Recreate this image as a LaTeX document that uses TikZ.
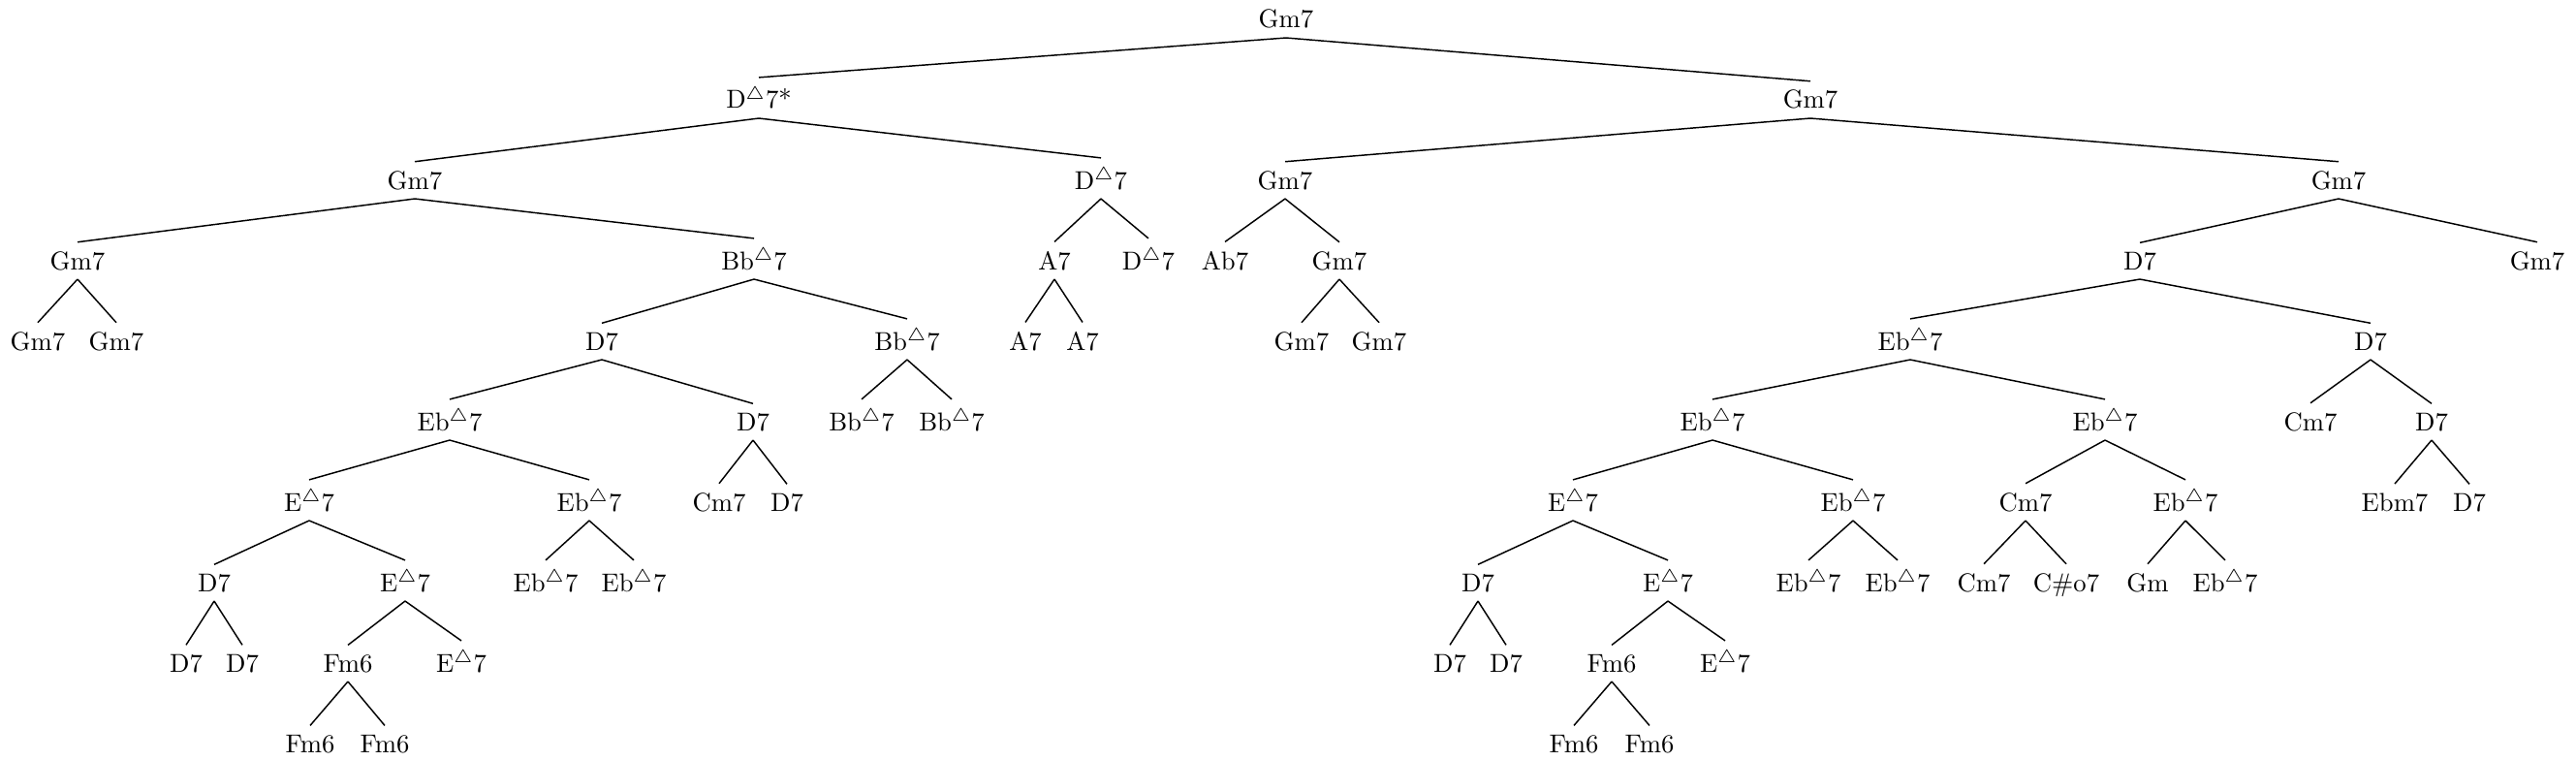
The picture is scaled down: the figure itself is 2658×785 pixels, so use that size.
\documentclass[tikz,border=0pt]{standalone}
\usepackage{amssymb}
\newcommand{\maj}{$^{\triangle}$}
\begin{document}
\begin{tikzpicture}[x=0.3745pt,y=-0.3745pt,
  ch/.style={anchor=base,inner sep=0.3333em},
  edge/.style={line width=0.55pt}]
\useasboundingbox (0,0) rectangle (2658,785);
% level 0
\node[ch] (r) at (1327,29) {Gm7};
% level 1
\node[ch] (a) at (783,112) {D\maj7*};
\node[ch] (b) at (1868,112) {Gm7};
% level 2
\node[ch] (aa) at (428,195) {Gm7};
\node[ch] (ab) at (1136,195) {D\maj7};
\node[ch] (ba) at (1326,195) {Gm7};
\node[ch] (bb) at (2413,195) {Gm7};
% level 3
\node[ch] (aaa) at (80,278) {Gm7};
\node[ch] (aab) at (778,278) {Bb\maj7};
\node[ch] (aba) at (1088,278) {A7};
\node[ch] (abb) at (1185,278) {D\maj7};
\node[ch] (baa) at (1264,278) {Ab7};
\node[ch] (bab) at (1382,278) {Gm7};
\node[ch] (bba) at (2208,278) {D7};
\node[ch] (bbb) at (2618,278) {Gm7};
% level 4
\node[ch] (aaaa) at (39,361) {Gm7};
\node[ch] (aaab) at (120,361) {Gm7};
\node[ch] (aaba) at (621,361) {D7};
\node[ch] (aabb) at (936,361) {Bb\maj7};
\node[ch] (abaa) at (1058,361) {A7};
\node[ch] (abab) at (1117,361) {A7};
\node[ch] (baba) at (1343,361) {Gm7};
\node[ch] (babb) at (1423,361) {Gm7};
\node[ch] (bbaa) at (1971,361) {Eb\maj7};
\node[ch] (bbab) at (2446,361) {D7};
% level 5
\node[ch] (aabaa) at (464,444) {Eb\maj7};
\node[ch] (aabab) at (777,444) {D7};
\node[ch] (aabba) at (889,444) {Bb\maj7};
\node[ch] (aabbb) at (982,444) {Bb\maj7};
\node[ch] (bbaaa) at (1767,444) {Eb\maj7};
\node[ch] (bbaab) at (2172,444) {Eb\maj7};
\node[ch] (bbaba) at (2384,444) {Cm7};
\node[ch] (bbabb) at (2509,444) {D7};
% level 6
\node[ch] (aabaaa) at (319,527) {E\maj7};
\node[ch] (aabaab) at (608,527) {Eb\maj7};
\node[ch] (aababa) at (742,527) {Cm7};
\node[ch] (aababb) at (812,527) {D7};
\node[ch] (bbaaaa) at (1623,527) {E\maj7};
\node[ch] (bbaaab) at (1912,527) {Eb\maj7};
\node[ch] (bbaaba) at (2090,527) {Cm7};
\node[ch] (bbaabb) at (2255,527) {Eb\maj7};
\node[ch] (bbabba) at (2471,527) {Ebm7};
\node[ch] (bbabbb) at (2548,527) {D7};
% level 7
\node[ch] (aabaaaa) at (221,610) {D7};
\node[ch] (aabaaab) at (418,610) {E\maj7};
\node[ch] (aabaaba) at (563,610) {Eb\maj7};
\node[ch] (aabaabb) at (654,610) {Eb\maj7};
\node[ch] (bbaaaaa) at (1525,610) {D7};
\node[ch] (bbaaaab) at (1721,610) {E\maj7};
\node[ch] (bbaaaba) at (1866,610) {Eb\maj7};
\node[ch] (bbaaabb) at (1958,610) {Eb\maj7};
\node[ch] (bbaabaa) at (2047,610) {Cm7};
\node[ch] (bbaabab) at (2132,610) {C\#o7};
\node[ch] (bbaabba) at (2216,610) {Gm};
\node[ch] (bbaabbb) at (2296,610) {Eb\maj7};
% level 8
\node[ch] (aabaaaaa) at (192,693) {D7};
\node[ch] (aabaaaab) at (250,693) {D7};
\node[ch] (aabaaaba) at (359,693) {Fm6};
\node[ch] (aabaaabb) at (476,693) {E\maj7};
\node[ch] (bbaaaaaa) at (1496,693) {D7};
\node[ch] (bbaaaaab) at (1554,693) {D7};
\node[ch] (bbaaaaba) at (1663,693) {Fm6};
\node[ch] (bbaaaabb) at (1780,693) {E\maj7};
% level 9
\node[ch] (aabaaabaa) at (320,776) {Fm6};
\node[ch] (aabaaabab) at (397,776) {Fm6};
\node[ch] (bbaaaabaa) at (1624,776) {Fm6};
\node[ch] (bbaaaabab) at (1702,776) {Fm6};
% edges
\foreach \p/\c in {r/a,r/b,
  a/aa,a/ab,b/ba,b/bb,
  aa/aaa,aa/aab,ab/aba,ab/abb,ba/baa,ba/bab,bb/bba,bb/bbb,
  aaa/aaaa,aaa/aaab,aab/aaba,aab/aabb,aba/abaa,aba/abab,bab/baba,bab/babb,bba/bbaa,bba/bbab,
  aaba/aabaa,aaba/aabab,aabb/aabba,aabb/aabbb,bbaa/bbaaa,bbaa/bbaab,bbab/bbaba,bbab/bbabb,
  aabaa/aabaaa,aabaa/aabaab,aabab/aababa,aabab/aababb,bbaaa/bbaaaa,bbaaa/bbaaab,bbaab/bbaaba,bbaab/bbaabb,bbabb/bbabba,bbabb/bbabbb,
  aabaaa/aabaaaa,aabaaa/aabaaab,aabaab/aabaaba,aabaab/aabaabb,bbaaaa/bbaaaaa,bbaaaa/bbaaaab,bbaaab/bbaaaba,bbaaab/bbaaabb,bbaaba/bbaabaa,bbaaba/bbaabab,bbaabb/bbaabba,bbaabb/bbaabbb,
  aabaaaa/aabaaaaa,aabaaaa/aabaaaab,aabaaab/aabaaaba,aabaaab/aabaaabb,bbaaaaa/bbaaaaaa,bbaaaaa/bbaaaaab,bbaaaab/bbaaaaba,bbaaaab/bbaaaabb,
  aabaaaba/aabaaabaa,aabaaaba/aabaaabab,bbaaaaba/bbaaaabaa,bbaaaaba/bbaaaabab}
  \draw[edge] (\p.south) -- (\c.north);
\end{tikzpicture}
\end{document}
